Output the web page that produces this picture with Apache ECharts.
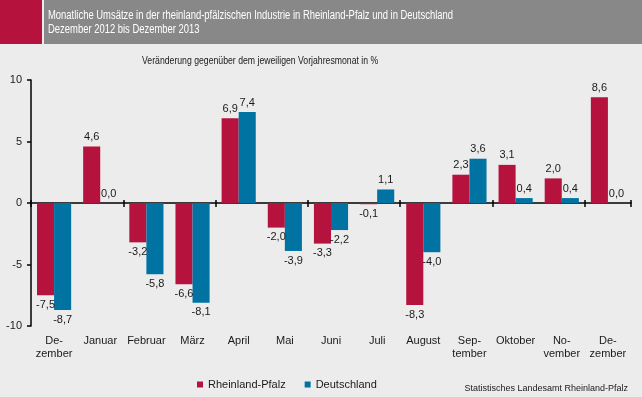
<!DOCTYPE html>
<html>
<head>
<meta charset="utf-8">
<script src="https://cdn.jsdelivr.net/npm/echarts@6/dist/echarts.min.js"></script>
<style>
  html, body { margin: 0; padding: 0; background: #ececec; }
  #chart { width: 642px; height: 397px; }
</style>
</head>
<body>
<div id="chart"></div>
<script>
// Monatliche Umsätze, Veränderung zum Vorjahresmonat in %
const months = ['De-\nzember', 'Januar', 'Februar', 'März', 'April', 'Mai', 'Juni', 'Juli', 'August', 'Sep-\ntember', 'Oktober', 'No-\nvember', 'De-\nzember']
const rheinlandPfalz = [-7.5, 4.6, -3.2, -6.6, 6.9, -2.0, -3.3, -0.1, -8.3, 2.3, 3.1, 2.0, 8.6]
const deutschland = [-8.7, 0.0, -5.8, -8.1, 7.4, -3.9, -2.2, 1.1, -4.0, 3.6, 0.4, 0.4, 0.0]
const yTicks = [-10, -5, 0, 5, 10]

const FONT = '"Liberation Sans", Arial, sans-serif'
const GRID_TOP = 80
const GRID_BOTTOM = 71
const chart = echarts.init(document.getElementById('chart'))

const valueLabel = {
  show: true,
  fontFamily: FONT,
  fontSize: 11,
  color: '#1a1a1a',
  distance: 4,
  formatter: (p) => p.value.toFixed(1).replace('.', ',')
}

const makeSeries = (name, data, color) => ({
  name: name,
  type: 'bar',
  data: data.map((v) => ({
    value: v,
    label: { position: v < 0 ? 'bottom' : 'top' }
  })),
  barGap: '0%',
  barCategoryGap: '26%',
  itemStyle: { color: color },
  label: valueLabel
})

// zero line sits in the middle of the plot (min -10, max 10)
const plotHeight = 397 - GRID_TOP - GRID_BOTTOM
const zeroOffset = -plotHeight / 2

const option = {
  backgroundColor: '#ececec',
  animation: false,
  grid: { left: 31, right: 11, top: GRID_TOP, bottom: GRID_BOTTOM },
  legend: {
    left: 192,
    top: 374,
    icon: 'rect',
    itemWidth: 6,
    itemHeight: 6,
    itemGap: 19,
    textStyle: { fontFamily: FONT, fontSize: 11, color: '#1a1a1a' },
    data: ['Rheinland-Pfalz', 'Deutschland']
  },
  graphic: [
    { type: 'rect', shape: { x: 0, y: 0, width: 42, height: 44 }, style: { fill: '#b5133e' } },
    { type: 'rect', shape: { x: 44, y: 0, width: 598, height: 44 }, style: { fill: '#888888' } },
    {
      type: 'text', x: 48, y: 9, scaleX: 0.755,
      style: {
        text: 'Monatliche Umsätze in der rheinland-pfälzischen Industrie in Rheinland-Pfalz und in Deutschland\nDezember 2012 bis Dezember 2013',
        fill: '#ffffff', font: '12.5px ' + FONT, lineHeight: 14
      }
    },
    {
      type: 'text', x: 142, y: 55, scaleX: 0.79,
      style: {
        text: 'Veränderung gegenüber dem jeweiligen Vorjahresmonat in %',
        fill: '#1a1a1a', font: '11px ' + FONT
      }
    },
    {
      type: 'text', right: 14, top: 384,
      style: {
        text: 'Statistisches Landesamt Rheinland-Pfalz',
        fill: '#1a1a1a', font: '9px ' + FONT
      }
    }
  ],
  xAxis: [
    {
      type: 'category',
      data: months,
      position: 'bottom',
      axisLine: { show: false, onZero: false },
      axisTick: { show: false },
      axisLabel: { fontFamily: FONT, fontSize: 11, color: '#1a1a1a', margin: 8, lineHeight: 13, interval: 0 }
    },
    {
      type: 'category',
      data: months,
      position: 'bottom',
      axisLine: { show: true, onZero: true, lineStyle: { color: '#000', width: 1.5 } },
      axisTick: { show: true, length: 4, lineStyle: { color: '#000', width: 1.5 } },
      axisLabel: { show: false }
    },
    {
      // upper half of the crossing ticks on the zero line
      type: 'category',
      data: months,
      position: 'bottom',
      offset: zeroOffset,
      axisLine: { show: false, onZero: false },
      axisTick: { show: true, inside: true, length: 3, lineStyle: { color: '#000', width: 1.5 } },
      axisLabel: { show: false }
    }
  ],
  yAxis: {
    type: 'value',
    min: yTicks[0],
    max: yTicks[yTicks.length - 1],
    interval: 5,
    axisLine: { show: true, lineStyle: { color: '#000', width: 1.5 } },
    axisTick: { show: true, length: 4, lineStyle: { color: '#000', width: 1.5 } },
    axisLabel: { fontFamily: FONT, fontSize: 11, color: '#1a1a1a', margin: 9 },
    splitLine: { show: false }
  },
  series: [
    makeSeries('Rheinland-Pfalz', rheinlandPfalz, '#b5133e'),
    makeSeries('Deutschland', deutschland, '#0073a3')
  ]
}

chart.setOption(option)
window.addEventListener('resize', () => chart.resize())
</script>
</body>
</html>
